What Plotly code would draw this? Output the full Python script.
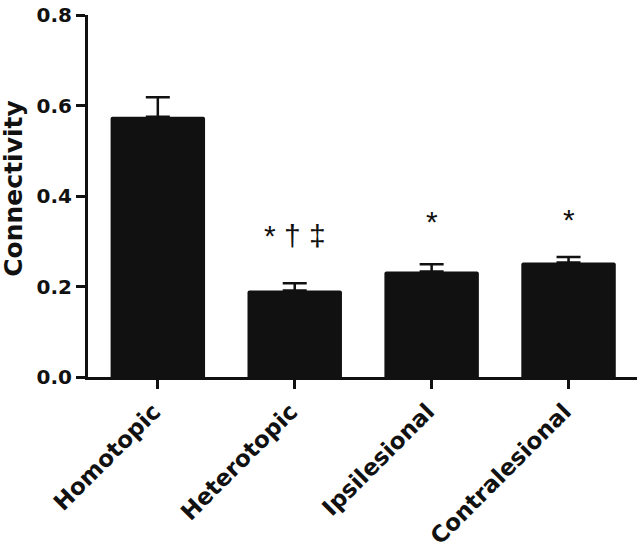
import plotly.graph_objects as go

categories = ["Homotopic", "Heterotopic", "Ipsilesional", "Contralesional"]
values = [0.575, 0.191, 0.233, 0.253]
errors = [0.043, 0.016, 0.016, 0.012]
sig_labels = ["", "* \u2020 \u2021", "*", "*"]
sig_y = [0.0, 0.313, 0.343, 0.349]
y_ticks = [0.0, 0.2, 0.4, 0.6, 0.8]
y_ticklabels = ["0.0", "0.2", "0.4", "0.6", "0.8"]
y_title = "Connectivity"

FONT = "DejaVu Sans, Arial, sans-serif"
AFONT = "Arial, Liberation Sans, sans-serif"

fig = go.Figure()
fig.add_trace(go.Bar(
    x=list(range(len(categories))),
    y=values,
    width=0.69,
    marker=dict(color="#111111", line=dict(width=0), cornerradius=2),
    error_y=dict(type="data", array=errors, arrayminus=[0]*len(errors),
                 symmetric=False, color="#111111", thickness=2.5, width=12),
    showlegend=False,
))

for i, (lab, yy) in enumerate(zip(sig_labels, sig_y)):
    if lab:
        fig.add_annotation(x=i, y=yy, text=lab, showarrow=False,
                           font=dict(family=AFONT, size=30, color="#111111"),
                           xanchor="center", yanchor="middle")

fig.add_annotation(xref="paper", yref="paper", x=0, y=0.52, xshift=-74,
                   text=y_title, textangle=-90, showarrow=False,
                   font=dict(family=FONT, size=25, color="#111111", weight="bold"),
                   xanchor="center", yanchor="middle")

fig.update_layout(
    width=642, height=553,
    margin=dict(l=88, r=5, t=15, b=176, autoexpand=False),
    plot_bgcolor="white", paper_bgcolor="white",
    font=dict(family=FONT, color="#111111"),
)
fig.update_xaxes(
    range=[-0.51, 3.5], automargin=False,
    tickmode="array", tickvals=list(range(len(categories))), ticktext=categories,
    tickangle=-45, ticklabelstandoff=0, ticklabelshift=-4,
    tickfont=dict(family=FONT, size=23, color="#111111", weight="bold"),
    showline=True, linecolor="#111111", linewidth=3,
    ticks="outside", ticklen=9, tickwidth=3, tickcolor="#111111",
    showgrid=False, zeroline=False,
)
fig.update_yaxes(
    range=[0, 0.8], automargin=False,
    tickmode="array", tickvals=y_ticks, ticktext=y_ticklabels,
    tickfont=dict(family=FONT, size=20, color="#111111", weight="bold"),
    showline=True, linecolor="#111111", linewidth=3,
    ticks="outside", ticklen=9, tickwidth=3, tickcolor="#111111",
    showgrid=False, zeroline=False,
)

fig.write_html("out.html", config={"displayModeBar": False},
               post_script="document.body.style.margin='0';document.body.style.overflow='hidden';")
